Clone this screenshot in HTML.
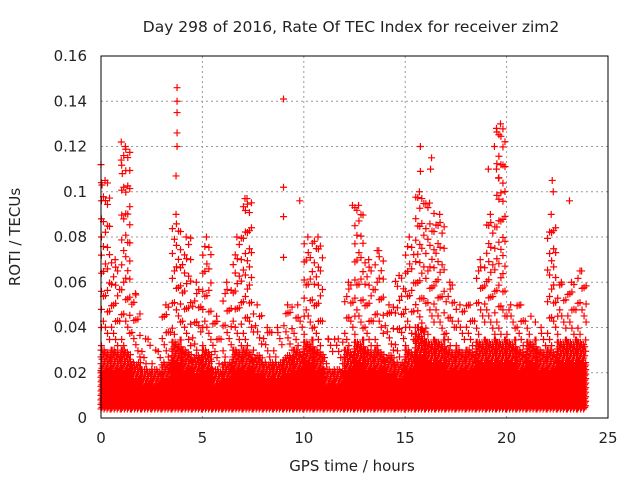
<!DOCTYPE html>
<html><head><meta charset="utf-8"><style>
body{margin:0;background:#fff}
svg text{font-family:"DejaVu Sans","Liberation Sans",sans-serif;fill:#222}
</style></head><body>
<svg id="c" width="640" height="480" xmlns="http://www.w3.org/2000/svg">
<text x="351" y="32" font-size="15.5" text-anchor="middle">Day 298 of 2016, Rate Of TEC Index for receiver zim2</text>
<text x="352" y="471" font-size="15" text-anchor="middle">GPS time / hours</text>
<text transform="translate(20,237) rotate(-90)" font-size="15" text-anchor="middle">ROTI / TECUs</text>
<g id="grid"></g><g id="marks"></g>
<rect x="101" y="56" width="507" height="362" fill="none" stroke="#000" stroke-width="1"/>
<g id="ticks"></g>
</svg>
<script>
const xTicks=[0,5,10,15,20,25];
const yTicks=[0,0.02,0.04,0.06,0.08,0.1,0.12,0.14,0.16];
const yTickLabels=["0","0.02","0.04","0.06","0.08","0.1","0.12","0.14","0.16"];
const binHours=[0,0.5,1,1.5,2,2.5,3,3.5,4,4.5,5,5.5,6,6.5,7,7.5,8,8.5,9,9.5,10,10.5,11,11.5,12,12.5,13,13.5,14,14.5,15,15.5,16,16.5,17,17.5,18,18.5,19,19.5,20,20.5,21,21.5,22,22.5,23,23.5];
const bandTop=[0.03,0.03,0.03,0.025,0.022,0.022,0.025,0.035,0.03,0.028,0.03,0.022,0.025,0.03,0.03,0.028,0.025,0.025,0.028,0.03,0.035,0.03,0.022,0.022,0.03,0.035,0.03,0.03,0.028,0.025,0.03,0.04,0.035,0.035,0.03,0.03,0.03,0.035,0.035,0.035,0.035,0.03,0.035,0.03,0.03,0.035,0.035,0.035];
const binPeak=[0.105,0.07,0.12,0.055,0.035,0.03,0.05,0.09,0.08,0.06,0.08,0.045,0.06,0.08,0.097,0.05,0.04,0.04,0.05,0.05,0.08,0.08,0.035,0.035,0.06,0.094,0.07,0.074,0.05,0.063,0.08,0.1,0.095,0.09,0.06,0.05,0.05,0.07,0.09,0.13,0.05,0.05,0.045,0.04,0.09,0.06,0.06,0.065];
const spikeHours=[3.75,3.75,3.75,3.75,3.75,3.7,9.0,1.0,1.0,1.05,0,0.05,19.5,19.4,19.5,19.1,15.75,15.75,16.3,16.25,22.25,22.3,9.0,9.0,9.0,23.1,9.8,12.4,7.1,19.6];
const spikeValues=[0.146,0.14,0.135,0.126,0.12,0.107,0.141,0.122,0.114,0.108,0.112,0.103,0.128,0.12,0.11,0.11,0.12,0.109,0.115,0.11,0.105,0.1,0.102,0.089,0.071,0.096,0.096,0.094,0.097,0.106];
const X=h=>101+h*507/25, Y=v=>418-v*362/0.16;
const NS="http://www.w3.org/2000/svg";
const grid=document.getElementById('grid'),ticks=document.getElementById('ticks'),marks=document.getElementById('marks');
function mk(tag,attrs,parent){const e=document.createElementNS(NS,tag);for(const k in attrs)e.setAttribute(k,attrs[k]);parent.appendChild(e);return e;}
xTicks.forEach((t,i)=>{
  if(i>0&&i<xTicks.length-1){const g=mk('line',{x1:X(t),x2:X(t),y1:56,y2:418,stroke:'#999','stroke-dasharray':'2,3'},grid);
  
  }
  const tx=mk('text',{x:X(t),y:443,'font-size':15,'text-anchor':'middle'},ticks);tx.textContent=t;
  
  
});
yTicks.forEach((t,i)=>{
  if(i>0&&i<yTicks.length-1){const g=mk('line',{x1:101,x2:608,y1:Y(t),y2:Y(t),stroke:'#999','stroke-dasharray':'2,3'},grid);
  
  }
  const tx=mk('text',{x:87,y:Y(t)+5,'font-size':15,'text-anchor':'end'},ticks);tx.textContent=yTickLabels[i];
  
  
});
function plus(x,y){return `M${x-3.5},${y}h7M${x},${y-3.5}v7`;}
binHours.forEach((h,i)=>{
  let d='';
  for(let k=0;k<10;k++){const hh=h+k*0.05;if(hh>23.9)break;
    const solidTop=bandTop[i]*0.7;
    for(let v=0.004+(k%3)*0.0007;v<=solidTop;v+=0.002)d+=plus(X(hh),Y(v));
    for(let v=solidTop+0.001*(k%4);v<=bandTop[i];v+=0.003+0.001*(k%3))d+=plus(X(hh),Y(v));
    if(k%2===0){const off=0.002+0.0027*((k*7+i*3)%5);
      const step=0.008+0.0015*((k+i)%5);
      for(let v=bandTop[i]+off;v<=binPeak[i];v+=step)d+=plus(X(hh+0.02),Y(v));}
  }
  d+=plus(X(h+0.2),Y(binPeak[i]));
  const p=mk('path',{d:d,stroke:'#f00','stroke-width':1.2,fill:'none'},marks);
  
  
});
spikeHours.forEach((h,i)=>{
  const p=mk('path',{d:plus(X(h),Y(spikeValues[i])),stroke:'#f00','stroke-width':1.2,fill:'none'},marks);
  
  
});
</script>
</body></html>
